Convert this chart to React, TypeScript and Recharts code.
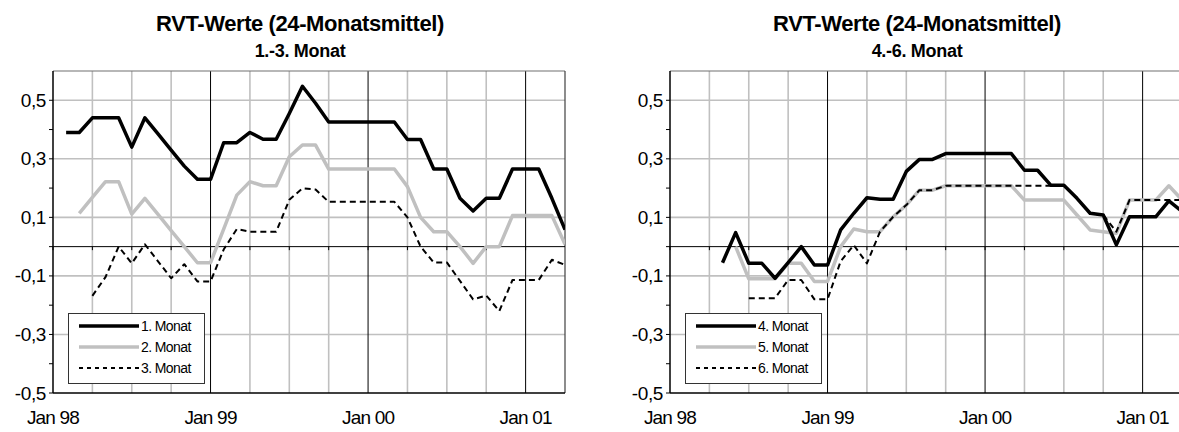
import { Legend, Line, LineChart, ReferenceLine, XAxis, YAxis } from "recharts"

const FONT = "'Liberation Sans', Arial, Helvetica, sans-serif"

// Monate Jan 98 .. Apr 01
const months = [
    "Jan 98", "Feb 98", "Mrz 98", "Apr 98", "Mai 98", "Jun 98", "Jul 98", "Aug 98", "Sep 98", "Okt 98", "Nov 98", "Dez 98",
    "Jan 99", "Feb 99", "Mrz 99", "Apr 99", "Mai 99", "Jun 99", "Jul 99", "Aug 99", "Sep 99", "Okt 99", "Nov 99", "Dez 99",
    "Jan 00", "Feb 00", "Mrz 00", "Apr 00", "Mai 00", "Jun 00", "Jul 00", "Aug 00", "Sep 00", "Okt 00", "Nov 00", "Dez 00",
    "Jan 01", "Feb 01", "Mrz 01", "Apr 01",
]

const monat1 = [
    null, 0.39, 0.39, 0.44, 0.44, 0.44, 0.34, 0.44, 0.385, 0.33, 0.275, 0.23,
    0.23, 0.355, 0.355, 0.39, 0.367, 0.367, 0.455, 0.548, 0.49, 0.426, 0.426, 0.426,
    0.426, 0.426, 0.426, 0.366, 0.366, 0.265, 0.265, 0.165, 0.122, 0.165, 0.165, 0.265,
    0.265, 0.265, 0.165, 0.058,
]
const monat2 = [
    null, null, 0.114, 0.168, 0.222, 0.222, 0.111, 0.165, 0.11, 0.055, 0.0, -0.055,
    -0.055, 0.06, 0.176, 0.222, 0.208, 0.208, 0.307, 0.347, 0.347, 0.265, 0.265, 0.265,
    0.265, 0.265, 0.265, 0.205, 0.1, 0.051, 0.051, 0.0, -0.057, 0.0, 0.0, 0.106,
    0.106, 0.106, 0.106, 0.008,
]
const monat3 = [
    null, null, null, -0.168, -0.104, 0.0, -0.057, 0.008, -0.05, -0.108, -0.06, -0.119,
    -0.119, -0.01, 0.06, 0.051, 0.051, 0.051, 0.16, 0.199, 0.195, 0.153, 0.153, 0.153,
    0.153, 0.153, 0.153, 0.1, 0.0, -0.054, -0.054, -0.117, -0.18, -0.167, -0.22, -0.114,
    -0.114, -0.114, -0.045, -0.062,
]
const monat4 = [
    null, null, null, null, -0.055, 0.048, -0.057, -0.057, -0.108, -0.055, 0.0, -0.063,
    -0.063, 0.057, 0.114, 0.167, 0.162, 0.162, 0.257, 0.298, 0.298, 0.318, 0.318, 0.318,
    0.318, 0.318, 0.318, 0.261, 0.261, 0.21, 0.21, 0.165, 0.114, 0.108, 0.006, 0.102,
    0.102, 0.102, 0.156, 0.12,
]
const monat5 = [
    null, null, null, null, null, 0.0, -0.11, -0.11, -0.11, -0.057, -0.057, -0.119,
    -0.119, 0.0, 0.06, 0.051, 0.051, 0.102, 0.142, 0.193, 0.193, 0.208, 0.208, 0.208,
    0.208, 0.208, 0.208, 0.159, 0.159, 0.159, 0.159, 0.108, 0.057, 0.051, 0.045, 0.159,
    0.159, 0.159, 0.208, 0.16,
]
const monat6 = [
    null, null, null, null, null, null, -0.176, -0.176, -0.176, -0.114, -0.114, -0.18,
    -0.18, -0.05, 0.005, -0.057, 0.051, 0.102, 0.142, 0.193, 0.193, 0.208, 0.208, 0.208,
    0.208, 0.208, 0.208, 0.208, 0.208, 0.208, 0.208, 0.165, 0.114, 0.108, 0.051, 0.159,
    0.159, 0.159, 0.159, 0.159,
]

const yTicks = [-0.5, -0.4, -0.3, -0.2, -0.1, 0, 0.1, 0.2, 0.3, 0.4, 0.5]
const yLabelValues = [-0.5, -0.3, -0.1, 0.1, 0.3, 0.5]
const yLabels = ["-0,5", "-0,3", "-0,1", "0,1", "0,3", "0,5"]

const title = "RVT-Werte (24-Monatsmittel)"

type Series = { key: string; name: string; values: (number | null)[]; color: string; width: number; dash?: string; legendDash?: string }

const black = (key: string, name: string, values: (number | null)[]): Series => ({ key, name, values, color: "#000", width: 3.5 })
const grey = (key: string, name: string, values: (number | null)[]): Series => ({ key, name, values, color: "#c0c0c0", width: 3.5 })
const dotted = (key: string, name: string, values: (number | null)[]): Series => ({
    key, name, values, color: "#000", width: 2, dash: "6 4", legendDash: "4 4",
})

// index positions derived from the month categories
const janIdx = months.map((m, i) => (m.startsWith("Jan") ? i : -1)).filter((i) => i >= 0)
const quarterIdx = months
    .map((m, i) => (m.startsWith("Apr") || m.startsWith("Jul") || m.startsWith("Okt") ? i : -1))
    .filter((i) => i >= 0 && i < months.length - 1)
const lastIdx = months.length - 1

function YTick(props: any) {
    const { x, y, payload } = props
    const idx = yLabelValues.findIndex((v) => Math.abs(v - payload.value) < 1e-6)
    if (idx < 0) return <g />
    return (
        <text x={x} y={y} dy={6.5} textAnchor="end" fontSize={19} fontFamily={FONT} fill="#000" letterSpacing={-0.4}>
            {yLabels[idx]}
        </text>
    )
}

function XTick(props: any) {
    const { x, y, payload } = props
    return (
        <text x={x} y={y} dy={21} textAnchor="middle" fontSize={19} fontFamily={FONT} fill="#000" letterSpacing={-0.8}>
            {months[payload.value]}
        </text>
    )
}

function LegendBox({ series }: { series: Series[] }) {
    return (
        <div
            style={{
                width: 137,
                height: 71,
                boxSizing: "border-box",
                border: "1px solid #333",
                background: "#fff",
                paddingTop: 1,
                fontFamily: FONT,
            }}
        >
            {series.map((s) => (
                <div key={s.key} style={{ display: "flex", alignItems: "center", height: 21 }}>
                    <svg width={72} height={8} style={{ flex: "none" }}>
                        <line
                            x1={10}
                            x2={70}
                            y1={4}
                            y2={4}
                            stroke={s.color}
                            strokeWidth={s.dash ? 2 : 3.5}
                            strokeDasharray={s.legendDash}
                        />
                    </svg>
                    <span style={{ fontSize: 14, letterSpacing: -0.6, color: "#000", lineHeight: "14px" }}>{s.name}</span>
                </div>
            ))}
        </div>
    )
}

function Panel({ subtitle, series, drawOrder, left }: { subtitle: string; series: Series[]; drawOrder: number[]; left: number }) {
    const data = months.map((label, i) => {
        const row: Record<string, number | string | null> = { i, label }
        series.forEach((s) => {
            row[s.key] = s.values[i]
        })
        return row
    })

    return (
        <div style={{ position: "absolute", left, top: 0, width: 600, height: 432 }}>
            <div
                style={{
                    position: "absolute",
                    left: 0,
                    width: 600,
                    top: 10,
                    textAlign: "center",
                    fontFamily: FONT,
                    fontWeight: "bold",
                    fontSize: 22,
                    letterSpacing: -0.4,
                    lineHeight: "28px",
                }}
            >
                {title}
            </div>
            <div
                style={{
                    position: "absolute",
                    left: 0,
                    width: 600,
                    top: 40,
                    textAlign: "center",
                    fontFamily: FONT,
                    fontWeight: "bold",
                    fontSize: 18,
                    letterSpacing: -0.3,
                    lineHeight: "22px",
                }}
            >
                {subtitle}
            </div>
            <LineChart width={600} height={432} data={data} margin={{ top: 71, right: 35, bottom: 0, left: 0 }}>
                {quarterIdx.map((q) => (
                    <ReferenceLine key={"q" + q} x={q} stroke="#c0c0c0" strokeWidth={1.6} />
                ))}
                {yLabelValues
                    .filter((v) => v > -0.5)
                    .map((v) => (
                        <ReferenceLine key={"h" + v} y={v} stroke="#c0c0c0" strokeWidth={1.6} />
                    ))}
                {janIdx
                    .filter((j) => j > 0)
                    .map((j) => (
                        <ReferenceLine key={"j" + j} x={j} stroke="#000" strokeWidth={1} />
                    ))}
                <ReferenceLine y={0.6} stroke="#707070" strokeWidth={1.2} />
                <ReferenceLine x={lastIdx} stroke="#404040" strokeWidth={1.2} />
                <ReferenceLine y={0} stroke="#000" strokeWidth={1} />
                {quarterIdx.concat(janIdx).map((q) => (
                    <ReferenceLine
                        key={"t" + q}
                        segment={[
                            { x: q, y: 0 },
                            { x: q, y: -0.012 },
                        ]}
                        stroke="#000"
                        strokeWidth={1}
                    />
                ))}
                <XAxis
                    type="number"
                    dataKey="i"
                    domain={[0, lastIdx]}
                    allowDataOverflow
                    ticks={janIdx}
                    tick={<XTick />}
                    tickLine={false}
                    tickMargin={4}
                    axisLine={{ stroke: "#000", strokeWidth: 1.5 }}
                    height={39}
                />
                <YAxis
                    type="number"
                    domain={[-0.5, 0.6]}
                    allowDataOverflow
                    ticks={yTicks}
                    tick={<YTick />}
                    tickSize={4}
                    tickMargin={3}
                    tickLine={{ stroke: "#000" }}
                    axisLine={{ stroke: "#000", strokeWidth: 1.5 }}
                    width={53}
                />
                {drawOrder.map((k) => {
                    const s = series[k]
                    return (
                        <Line
                            key={s.key}
                            type="linear"
                            dataKey={s.key}
                            name={s.name}
                            stroke={s.color}
                            strokeWidth={s.width}
                            strokeDasharray={s.dash}
                            dot={false}
                            activeDot={false}
                            isAnimationActive={false}
                            strokeLinejoin="round"
                        />
                    )
                })}
                <Legend
                    layout="horizontal"
                    align="center"
                    verticalAlign="middle"
                    content={() => <LegendBox series={series} />}
                    wrapperStyle={{ position: "absolute", left: 68, top: 313, width: 137, height: 71 }}
                />
            </LineChart>
        </div>
    )
}

export default function App() {
    const leftSeries = [black("s1", "1. Monat", monat1), grey("s2", "2. Monat", monat2), dotted("s3", "3. Monat", monat3)]
    const rightSeries = [black("s4", "4. Monat", monat4), grey("s5", "5. Monat", monat5), dotted("s6", "6. Monat", monat6)]
    return (
        <div
            style={{
                position: "fixed",
                left: 0,
                top: 0,
                width: 1179,
                height: 432,
                overflow: "hidden",
                background: "#fff",
            }}
        >
            <Panel subtitle="1.-3. Monat" series={leftSeries} drawOrder={[1, 2, 0]} left={0} />
            <Panel subtitle="4.-6. Monat" series={rightSeries} drawOrder={[1, 2, 0]} left={617} />
        </div>
    )
}
